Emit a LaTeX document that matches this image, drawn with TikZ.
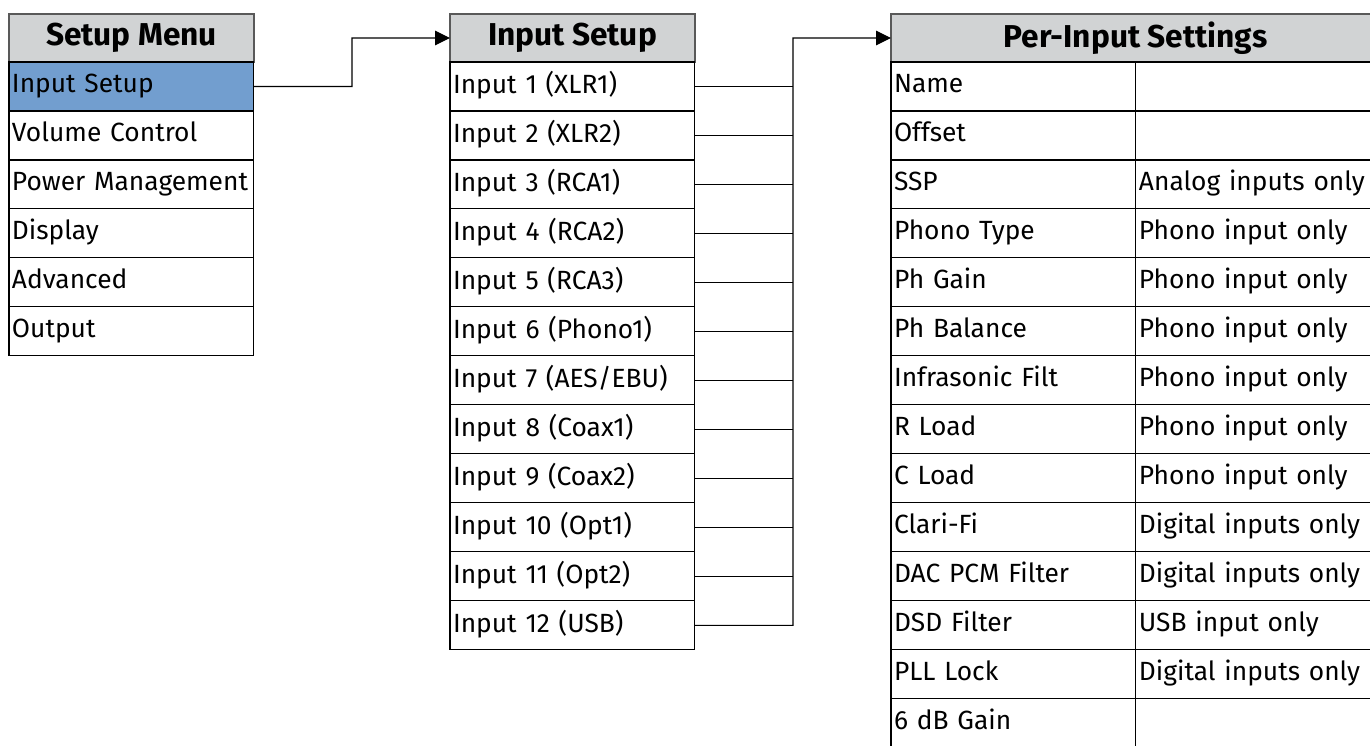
\documentclass[tikz,border=0pt]{standalone}
\usepackage{fontspec}
\setmainfont{Fira Sans}
\usetikzlibrary{positioning,arrows.meta}
\definecolor{hdrgray}{RGB}{209,211,212}
\definecolor{selblue}{RGB}{114,158,207}
\tikzset{
  cell/.style={draw=black, line width=0.6pt, outer sep=0pt, minimum width=4.9cm,
    minimum height=0.98cm, text width=4.78cm, inner xsep=0.06cm, inner ysep=0pt,
    align=left, font=\fontsize{15}{17}\selectfont,
    execute at begin node={\rule[-4.5pt]{0pt}{15.8pt}}},
  hdr/.style={draw=black!65, line width=1pt, outer sep=0pt, fill=hdrgray, minimum width=4.9cm,
    minimum height=0.96cm, align=center, font=\fontsize{18}{20}\selectfont\bfseries},
  link/.style={line width=0.6pt},
  tip/.style={-{Triangle[length=0.3cm,width=0.29cm]}},
}
\begin{document}
\begin{tikzpicture}[x=0.02cm,y=-0.02cm]
  \useasboundingbox (0,0) rectangle (1370,745);
  \clip (0,0) rectangle (1370,745);
  % setup menu
  \node[hdr, anchor=north west] (smh) at (9,14) {Setup Menu};
  \node[cell, fill=selblue, below=0pt of smh] (sm1) {Input Setup};
  \node[cell, below=0pt of sm1] (sm2) {Volume Control};
  \node[cell, below=0pt of sm2] (sm3) {Power Management};
  \node[cell, below=0pt of sm3] (sm4) {Display};
  \node[cell, below=0pt of sm4] (sm5) {Advanced};
  \node[cell, below=0pt of sm5] (sm6) {Output};
  % input setup
  \node[hdr, anchor=north west] (ish) at (450,14) {Input Setup};
  \node[cell, below=0pt of ish] (in1) {Input 1 (XLR1)};
  \node[cell, below=0pt of in1] (in2) {Input 2 (XLR2)};
  \node[cell, below=0pt of in2] (in3) {Input 3 (RCA1)};
  \node[cell, below=0pt of in3] (in4) {Input 4 (RCA2)};
  \node[cell, below=0pt of in4] (in5) {Input 5 (RCA3)};
  \node[cell, below=0pt of in5] (in6) {Input 6 (Phono1)};
  \node[cell, below=0pt of in6] (in7) {Input 7 (AES/EBU)};
  \node[cell, below=0pt of in7] (in8) {Input 8 (Coax1)};
  \node[cell, below=0pt of in8] (in9) {Input 9 (Coax2)};
  \node[cell, below=0pt of in9] (in10) {Input 10 (Opt1)};
  \node[cell, below=0pt of in10] (in11) {Input 11 (Opt2)};
  \node[cell, below=0pt of in11] (in12) {Input 12 (USB)};
  % per-input settings
  \node[hdr, anchor=north west, minimum width=9.78cm] (pih) at (891,14) {Per-Input Settings};
  \node[cell, anchor=north west] (p1) at (pih.south west) {Name};
  \node[cell, below=0pt of p1] (p2) {Offset};
  \node[cell, below=0pt of p2] (p3) {SSP};
  \node[cell, below=0pt of p3] (p4) {Phono Type};
  \node[cell, below=0pt of p4] (p5) {Ph Gain};
  \node[cell, below=0pt of p5] (p6) {Ph Balance};
  \node[cell, below=0pt of p6] (p7) {Infrasonic Filt};
  \node[cell, below=0pt of p7] (p8) {R Load};
  \node[cell, below=0pt of p8] (p9) {C Load};
  \node[cell, below=0pt of p9] (p10) {Clari-Fi};
  \node[cell, below=0pt of p10] (p11) {DAC PCM Filter};
  \node[cell, below=0pt of p11] (p12) {DSD Filter};
  \node[cell, below=0pt of p12] (p13) {PLL Lock};
  \node[cell, below=0pt of p13] (p14) {6 dB Gain};
  \node[cell, right=0pt of p1] (q1) {};
  \node[cell, below=0pt of q1] (q2) {};
  \node[cell, below=0pt of q2] (q3) {Analog inputs only};
  \node[cell, below=0pt of q3] (q4) {Phono input only};
  \node[cell, below=0pt of q4] (q5) {Phono input only};
  \node[cell, below=0pt of q5] (q6) {Phono input only};
  \node[cell, below=0pt of q6] (q7) {Phono input only};
  \node[cell, below=0pt of q7] (q8) {Phono input only};
  \node[cell, below=0pt of q8] (q9) {Phono input only};
  \node[cell, below=0pt of q9] (q10) {Digital inputs only};
  \node[cell, below=0pt of q10] (q11) {Digital inputs only};
  \node[cell, below=0pt of q11] (q12) {USB input only};
  \node[cell, below=0pt of q12] (q13) {Digital inputs only};
  \node[cell, below=0pt of q13] (q14) {};
  % links
  \coordinate (jog) at (352,38);
  \coordinate (bus) at (793,38);
  \draw[link, tip] (sm1.east) -| (jog) -- (ish.west);
  \draw[link, tip] (in12.east) -| (bus) -- (pih.west);
  \foreach \i in {1,...,11}
    \draw[link] (in\i.east) -- (in\i.east -| bus);
\end{tikzpicture}
\end{document}
